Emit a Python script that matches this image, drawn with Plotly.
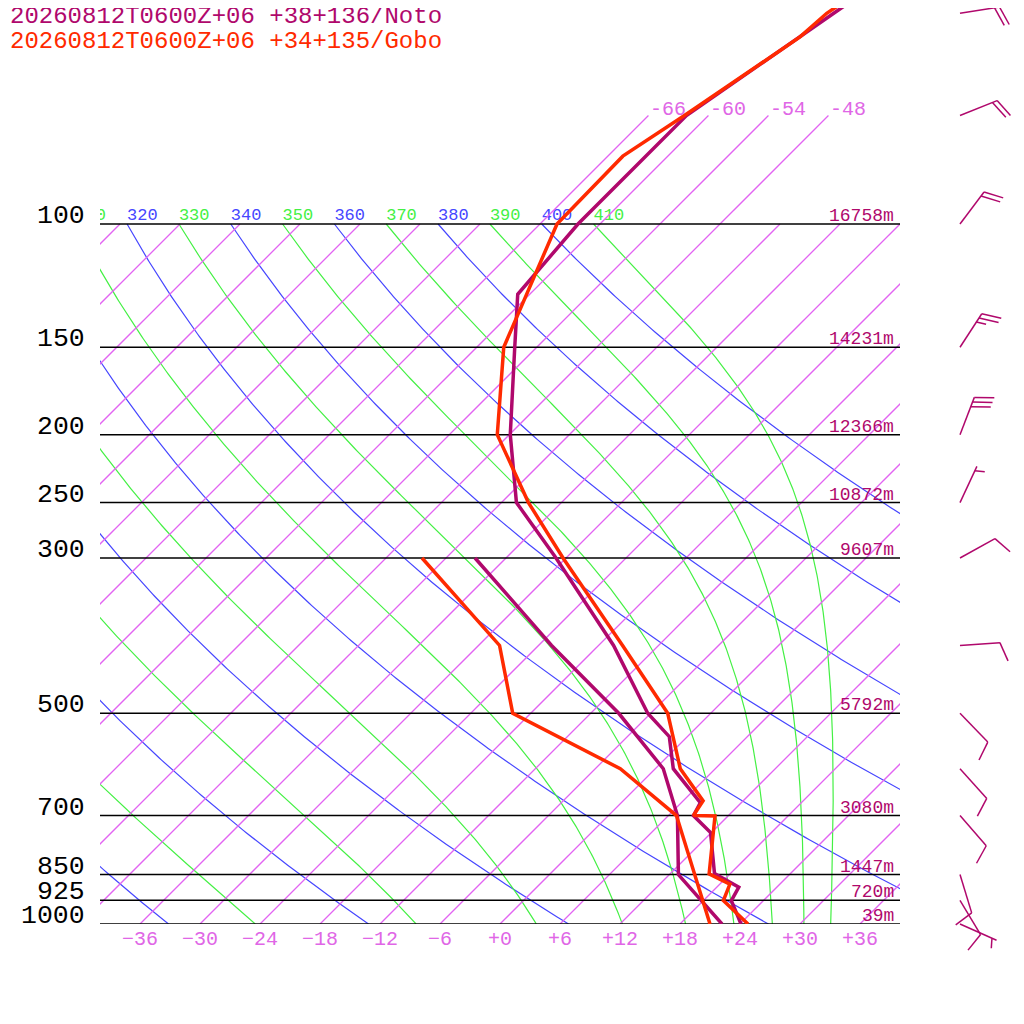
import numpy as np
import plotly.graph_objects as go

# ─── 데이터 ─────────────────────────────────────────
NOTO_T_P = [1000, 926, 886, 847, 740, 700, 671, 600, 540, 500, 400, 300, 250, 200, 150, 126, 100, 70, 50, 30]
NOTO_T = [24.1, 20.8, 20.2, 16.4, 11.9, 8.5, 7.9, 1.8, -1.8, -6.3, -16.5, -31.0, -40.5, -47.9, -56.2, -61.2, -62.2, -62.2, -57.7, -50.8]
NOTO_TD_P = [1000, 925, 850, 700, 600, 500, 400, 300]
NOTO_TD = [22.2, 17.7, 12.9, 6.9, 0.8, -9.2, -22.7, -39.1]

GOBO_T_P = [1000, 926, 877, 848, 701, 700, 667, 600, 500, 400, 300, 250, 200, 150, 100, 80, 70, 54, 50, 30]
GOBO_T = [24.8, 20.0, 19.0, 15.9, 10.7, 8.5, 8.0, 2.5, -4.3, -15.6, -30.3, -39.3, -49.2, -57.3, -64.3, -64.5, -62.4, -58.7, -58.4, -50.6]
GOBO_TD_P = [1000, 925, 850, 700, 600, 500, 400, 300]
GOBO_TD = [21.0, 17.9, 14.6, 6.8, -3.5, -19.8, -27.9, -44.4]

WIND_P = [1000, 925, 850, 700, 600, 500, 400, 300, 250, 200, 150, 100, 70, 50]
WIND_DIR = [114, 149, 163, 139, 138, 136, 86, 61, 25, 21, 33, 37, 68, 81]
WIND_KT = [5, 10, 10, 10, 10, 10, 10, 10, 5, 30, 25, 20, 20, 20]

LEVELS = [100, 150, 200, 250, 300, 500, 700, 850, 925, 1000]
HEIGHTS = ["16758m", "14231m", "12366m", "10872m", "9607m", "5792m", "3080m", "1447m", "720m", "39m"]

ISOTHERMS = list(range(-108, 37, 6))
UPPER_ISOTHERMS = [-66, -60, -54, -48]
THETA_DRY = list(range(240, 401, 20))    # 건조단열선 (파랑)
THETA_MOIST = list(range(250, 411, 20))  # 습윤단열선 (초록)
X_TICKS = list(range(-36, 37, 6))

NOTO_COLOR = "#b0086c"
GOBO_COLOR = "#ff2a00"
ISO_COLOR = "#e264f2"
ISO_LABEL = "#e066e6"
BLUE = "#4646ff"
GREEN = "#44f044"
FONT = "Liberation Mono"

SKEW = 70.0   # 기압 10배 감소마다 70도 기울기
PAGE = 8      # 페이지 여백 보정 (px)
SKEW_H = 924 - PAGE   # 단열선도 높이 (px)
AREA_H = 984 - PAGE   # 바람깃 포함 전체 높이 (px)
BELOW = AREA_H - SKEW_H
KAPPA = 287.04 / 1005.7


def skew_x(t, p):
    return np.asarray(t, float) + SKEW * np.log10(1000.0 / np.asarray(p, float))


# ─── 단열선 계산 ────────────────────────────────────
Rd, CP, LV, EPS = 287.04, 1005.7, 2.501e6, 0.622
P_GRID = np.exp(np.linspace(np.log(100.0), np.log(1000.0), 300))


def moist_rate(T, p):
    es = 6.112 * np.exp(17.67 * (T - 273.15) / (T - 29.65))
    rs = EPS * es / (p - es)
    return (Rd * T + LV * rs) / (CP + LV * LV * rs * EPS / (Rd * T * T))


def pseudo_adiabat(theta):
    lnp = np.log(P_GRID)
    T = theta * 0.1 ** KAPPA
    out = [T]
    for i in range(len(lnp) - 1):
        h = lnp[i + 1] - lnp[i]
        p0, p1, p2 = np.exp(lnp[i]), np.exp(lnp[i] + h / 2), np.exp(lnp[i + 1])
        k1 = moist_rate(T, p0)
        k2 = moist_rate(T + h / 2 * k1, p1)
        k3 = moist_rate(T + h / 2 * k2, p1)
        k4 = moist_rate(T + h * k3, p2)
        T = T + h / 6 * (k1 + 2 * k2 + 2 * k3 + k4)
        out.append(T)
    return np.array(out) - 273.15


def dry_adiabat(theta):
    return theta * (P_GRID / 1000.0) ** KAPPA - 273.15


fig = go.Figure()

# 단열선
for color, thetas, func in [(BLUE, THETA_DRY, dry_adiabat), (GREEN, THETA_MOIST, pseudo_adiabat)]:
    xs, ys, lx, lt = [], [], [], []
    for th in thetas:
        t = func(th)
        xs += [float(v) for v in skew_x(t, P_GRID)] + [None]
        ys += [float(v) for v in P_GRID] + [None]
        lx.append(float(skew_x(t[0], 100)))
        lt.append(str(th))
    fig.add_trace(go.Scatter(x=xs, y=ys, mode="lines", line=dict(color=color, width=1.2),
                             hoverinfo="skip", showlegend=False))
    fig.add_trace(go.Scatter(x=lx, y=[100] * len(lx), mode="text", text=lt,
                             textposition="top right", cliponaxis=True,
                             textfont=dict(family=FONT, size=17, color=color),
                             hoverinfo="skip", showlegend=False))

# 등온선
xs, ys = [], []
for t in ISOTHERMS:
    xs += [float(t), float(t + SKEW), None]
    ys += [1000.0, 100.0, None]
for t in UPPER_ISOTHERMS:
    xs += [float(v) for v in skew_x([t, t], [100, 70])] + [None]
    ys += [100.0, 70.0, None]
fig.add_trace(go.Scatter(x=xs, y=ys, mode="lines", line=dict(color=ISO_COLOR, width=1.3),
                         hoverinfo="skip", showlegend=False))

# 기압면
xs, ys = [], []
for p in LEVELS:
    xs += [-40, 40, None]
    ys += [p, p, None]
fig.add_trace(go.Scatter(x=xs, y=ys, mode="lines", line=dict(color="black", width=1.5),
                         hoverinfo="skip", showlegend=False))

# 단열선도
for tp, tv, dp, dv, color, name in [
    (NOTO_T_P, NOTO_T, NOTO_TD_P, NOTO_TD, NOTO_COLOR, "Noto"),
    (GOBO_T_P, GOBO_T, GOBO_TD_P, GOBO_TD, GOBO_COLOR, "Gobo"),
]:
    fig.add_trace(go.Scatter(x=skew_x(dv, dp), y=dp, mode="lines", name=name + " Td",
                             line=dict(color=color, width=3.5), showlegend=False))
    fig.add_trace(go.Scatter(x=skew_x(tv, tp), y=tp, mode="lines", name=name + " T",
                             line=dict(color=color, width=3.5), showlegend=False))

# 바람깃 (픽셀 단위 보조 축)
STAFF, FULL, HALF, GAP = 40.0, 20.0, 10.0, 5.0
bx, by = [], []
rot = np.radians(-70)
for p, d, s in zip(WIND_P, WIND_DIR, WIND_KT):
    h = 700.0 * np.log10(1000.0 / p)
    u = np.array([np.sin(np.radians(d)), np.cos(np.radians(d))])
    b = np.array([u[0] * np.cos(rot) - u[1] * np.sin(rot), u[0] * np.sin(rot) + u[1] * np.cos(rot)])
    base = np.array([0.0, h])
    tip = base + STAFF * u
    bx += [base[0], tip[0], None]
    by += [base[1], tip[1], None]
    n_full, n_half = s // 10, (s % 10) // 5
    k = 0
    for _ in range(n_full):
        st = tip - k * GAP * u
        en = st + FULL * b
        bx += [st[0], en[0], None]
        by += [st[1], en[1], None]
        k += 1
    if n_half:
        k = max(k, 1)
        st = tip - k * GAP * u
        en = st + HALF * b
        bx += [st[0], en[0], None]
        by += [st[1], en[1], None]
bx = [None if v is None else float(v) for v in bx]
by = [None if v is None else float(v) for v in by]
fig.add_trace(go.Scatter(x=bx, y=by, mode="lines", xaxis="x2", yaxis="y2",
                         line=dict(color=NOTO_COLOR, width=1.5),
                         hoverinfo="skip", showlegend=False))

ann = []
for p in LEVELS:
    ann.append(dict(x=0, xref="paper", y=np.log10(p), yref="y", text=str(p), showarrow=False,
                    xanchor="right", yanchor="middle", xshift=-13, yshift=8,
                    font=dict(family=FONT, size=26.5, color="black")))
for p, hgt in zip(LEVELS, HEIGHTS):
    ann.append(dict(x=40, xref="x", y=np.log10(p), yref="y", text=hgt, showarrow=False,
                    xanchor="right", yanchor="middle", xshift=-4, yshift=8,
                    font=dict(family=FONT, size=18, color=NOTO_COLOR)))
for t in UPPER_ISOTHERMS:
    ann.append(dict(x=float(skew_x(t, 70)), xref="x", y=np.log10(70), yref="y", text=str(t),
                    showarrow=False, xanchor="left", yanchor="middle", yshift=6,
                    font=dict(family=FONT, size=20, color=ISO_LABEL)))
for txt, color, ypx in [("20260812T0600Z+06 +38+136/Noto", NOTO_COLOR, 17),
                        ("20260812T0600Z+06 +34+135/Gobo", GOBO_COLOR, 41)]:
    ann.append(dict(x=-92 / 924, xref="paper", y=1 - (ypx - PAGE) / AREA_H, yref="paper", text=txt,
                    showarrow=False, xanchor="left", yanchor="middle",
                    font=dict(family=FONT, size=24, color=color)))

fig.update_layout(
    width=1024 - PAGE, height=1024 - PAGE,
    margin=dict(l=100 - PAGE, r=0, t=0, b=1024 - PAGE - AREA_H),
    plot_bgcolor="white", paper_bgcolor="white",
    showlegend=False,
    annotations=ann,
    xaxis=dict(domain=[0, 800 / 924], range=[-40, 40], tickvals=X_TICKS,
               ticktext=[("+" if v >= 0 else "") + str(v).replace("-", "\u2212") for v in X_TICKS],
               tickfont=dict(family=FONT, size=20, color=ISO_LABEL),
               showgrid=False, zeroline=False, showline=False, ticks=""),
    yaxis=dict(type="log", domain=[BELOW / AREA_H, 1], range=[3, 3 - SKEW_H / 700],
               showticklabels=False, showgrid=False, zeroline=False, showline=False, ticks=""),
    xaxis2=dict(domain=[840 / 924, 1], range=[-20, 64], visible=False, anchor="y2"),
    yaxis2=dict(domain=[0, 1], range=[-BELOW, SKEW_H], visible=False, anchor="x2"),
)

fig.write_html("out.html")
